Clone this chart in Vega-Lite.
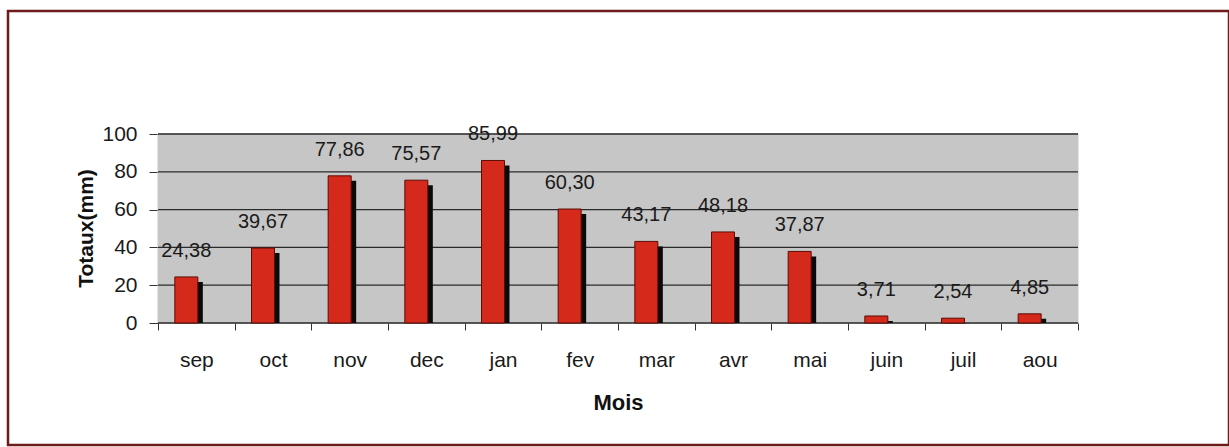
{
  "$schema": "https://vega.github.io/schema/vega-lite/v6.json",
  "width": 1221,
  "height": 434,
  "autosize": {"type": "none"},
  "padding": {"left": 8, "top": 11, "right": 0, "bottom": 2},
  "background": "white",
  "datasets": {
    "rain": [
      {"mois": "sep", "total": 24.38},
      {"mois": "oct", "total": 39.67},
      {"mois": "nov", "total": 77.86},
      {"mois": "dec", "total": 75.57},
      {"mois": "jan", "total": 85.99},
      {"mois": "fev", "total": 60.30},
      {"mois": "mar", "total": 43.17},
      {"mois": "avr", "total": 48.18},
      {"mois": "mai", "total": 37.87},
      {"mois": "juin", "total": 3.71},
      {"mois": "juil", "total": 2.54},
      {"mois": "aou", "total": 4.85}
    ],
    "grid": [{"g": 0}, {"g": 20}, {"g": 40}, {"g": 60}, {"g": 80}, {"g": 100}]
  },
  "encoding": {
    "x": {
      "field": "mois",
      "type": "nominal",
      "sort": null,
      "scale": {
        "domain": ["sep", "oct", "nov", "dec", "jan", "fev", "mar", "avr", "mai", "juin", "juil", "aou"],
        "paddingInner": 0,
        "paddingOuter": 0,
        "range": [150, 1070]
      },
      "axis": {
        "title": "Mois",
        "orient": "bottom",
        "offset": -122,
        "domain": false,
        "grid": false,
        "tickBand": "extent",
        "tickSize": 7,
        "tickColor": "#333333",
        "tickWidth": 1,
        "labelAngle": 0,
        "labelFont": "Liberation Sans",
        "labelFontSize": 21,
        "labelColor": "#1a1a1a",
        "labelPadding": 19,
        "titleFont": "Liberation Sans",
        "titleFontSize": 22,
        "titleFontWeight": "bold",
        "titleColor": "#111111",
        "titlePadding": 22
      }
    },
    "y": {
      "field": "total",
      "type": "quantitative",
      "stack": null,
      "scale": {"domain": [-64.55, 165.08], "nice": false, "zero": false},
      "axis": {
        "title": "Totaux(mm)",
        "orient": "left",
        "offset": -150,
        "values": [0, 20, 40, 60, 80, 100],
        "domain": false,
        "grid": false,
        "tickSize": 9,
        "tickColor": "#333333",
        "labelFont": "Liberation Sans",
        "labelFontSize": 21,
        "labelColor": "#1a1a1a",
        "labelPadding": 12,
        "titleFont": "Liberation Sans",
        "titleFontSize": 21,
        "titleFontWeight": "bold",
        "titleColor": "#111111",
        "titlePadding": 5
      }
    }
  },
  "layer": [
    {
      "data": {"name": "rain"},
      "mark": {"type": "rect", "fill": "#c6c6c6", "stroke": "#c6c6c6", "strokeWidth": 1},
      "encoding": {
        "y": {"datum": 0},
        "y2": {"datum": 100}
      }
    },
    {
      "data": {"name": "grid"},
      "mark": {"type": "rule", "color": "#2a2a2a", "strokeWidth": 1.3},
      "encoding": {
        "x": {"datum": "sep", "bandPosition": 0},
        "x2": {"datum": "aou", "bandPosition": 1},
        "y": {"field": "g", "type": "quantitative"}
      }
    },
    {
      "data": {"values": [{}]},
      "mark": {"type": "rule", "color": "#2a2a2a", "strokeWidth": 1.3},
      "encoding": {
        "x": {"datum": "sep", "bandPosition": 0},
        "y": {"datum": 0},
        "y2": {"datum": 100}
      }
    },
    {
      "data": {"values": [{}]},
      "mark": {"type": "rule", "color": "#777777", "strokeWidth": 1.3},
      "encoding": {
        "x": {"datum": "aou", "bandPosition": 1},
        "y": {"datum": 0},
        "y2": {"datum": 100}
      }
    },
    {
      "data": {"name": "rain"},
      "mark": {"type": "bar", "color": "#0a0a0a", "width": 23, "xOffset": -5, "yOffset": 5, "y2Offset": 0},
      "encoding": {
        "y2": {"datum": 0}
      }
    },
    {
      "data": {"name": "rain"},
      "mark": {"type": "bar", "fill": "#d52a1b", "stroke": "#5c0b05", "strokeWidth": 1, "width": 23, "xOffset": -10},
      "encoding": {
        "y2": {"datum": 0}
      }
    },
    {
      "data": {"name": "rain"},
      "mark": {"type": "text", "font": "Liberation Sans", "fontSize": 20, "color": "#1a1a1a", "baseline": "alphabetic", "dx": -10, "dy": -20},
      "encoding": {
        "text": {"field": "total", "type": "quantitative", "format": ".2f"}
      }
    }
  ],
  "config": {
    "view": {"stroke": "#6e1b1b", "strokeWidth": 2.5, "fill": "white"},
    "locale": {"number": {"decimal": ",", "thousands": " ", "grouping": [3], "currency": ["", " €"]}}
  }
}
